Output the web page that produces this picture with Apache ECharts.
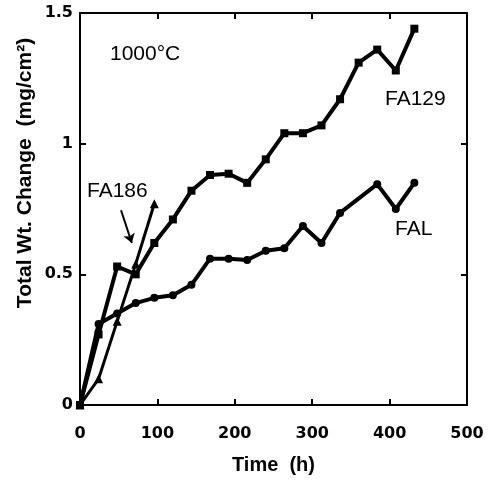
<!DOCTYPE html>
<html>
<head>
<meta charset="utf-8">
<script src="https://cdn.jsdelivr.net/npm/echarts@6/dist/echarts.min.js"></script>
<style>
  html, body { margin: 0; padding: 0; background: #fff; }
  #chart { width: 489px; height: 480px; }
</style>
</head>
<body>
<div id="chart"></div>
<script>
// 读图估计的数据（时间 h，增重 mg/cm²）
const fa129Time = [0, 24, 48, 72, 96, 120, 144, 168, 192, 216, 240, 264, 288, 312, 336, 360, 384, 408, 432];
const fa129Val = [0, 0.27, 0.53, 0.5, 0.62, 0.71, 0.82, 0.88, 0.885, 0.85, 0.94, 1.04, 1.04, 1.07, 1.17, 1.31, 1.36, 1.28, 1.44];

const falTime = [0, 24, 48, 72, 96, 120, 144, 168, 192, 216, 240, 264, 288, 312, 336, 384, 408, 432];
const falVal = [0, 0.31, 0.35, 0.39, 0.41, 0.42, 0.46, 0.56, 0.56, 0.555, 0.59, 0.6, 0.685, 0.62, 0.735, 0.845, 0.75, 0.85];

const fa186Time = [0, 24, 48, 72, 96];
const fa186Val = [0, 0.1, 0.32, 0.54, 0.77];

const xTicks = [0, 100, 200, 300, 400, 500];
const yTicks = [0, 0.5, 1, 1.5];

const pairs = (xs, ys) => xs.map((x, i) => [x, ys[i]]);

const chart = echarts.init(document.getElementById("chart"));
const FONT = "Liberation Sans";
const TICK_FONT = "DejaVu Sans";

// 四边都画轴线，刻度朝内
const frameAxis = (extra) => ({
  type: "value",
  axisLine: { onZero: false, lineStyle: { color: "#000", width: 2 } },
  axisTick: { inside: true, length: 6, lineStyle: { color: "#000", width: 2 } },
  splitLine: { show: false },
  ...extra,
});

const lineBase = {
  type: "line",
  xAxisIndex: 0,
  yAxisIndex: 0,
  lineStyle: { color: "#000", width: 4 },
  itemStyle: { color: "#000" },
  animation: false,
  z: 3,
};

chart.setOption({
  animation: false,
  grid: { left: 80, right: 22, top: 13, bottom: 75 },
  xAxis: [
    frameAxis({
      min: 0,
      max: 500,
      interval: 100,
      name: "Time  (h)",
      nameLocation: "middle",
      nameGap: 50,
      nameTextStyle: { fontFamily: FONT, fontWeight: "bold", fontSize: 20, color: "#000" },
      axisLabel: {
        margin: 21,
        fontFamily: TICK_FONT,
        fontWeight: "bold",
        fontSize: 16,
        color: "#000",
        formatter: (v) => (xTicks.includes(v) ? String(v) : ""),
      },
    }),
    frameAxis({ position: "top", min: 0, max: 500, interval: 100, axisLabel: { show: false } }),
  ],
  yAxis: [
    frameAxis({
      min: 0,
      max: 1.5,
      interval: 0.5,
      axisLabel: {
        margin: 7,
        fontFamily: TICK_FONT,
        fontWeight: "bold",
        fontSize: 16,
        color: "#000",
        formatter: (v) => (yTicks.includes(v) ? String(v) : ""),
      },
    }),
    frameAxis({ position: "right", min: 0, max: 1.5, interval: 0.5, axisLabel: { show: false } }),
  ],
  series: [
    { ...lineBase, name: "FA129", symbol: "rect", symbolSize: 8, data: pairs(fa129Time, fa129Val) },
    { ...lineBase, name: "FAL", symbol: "circle", symbolSize: 8, data: pairs(falTime, falVal) },
    {
      ...lineBase,
      name: "FA186",
      symbol: "triangle",
      symbolSize: 9,
      lineStyle: { color: "#000", width: 3 },
      data: pairs(fa186Time, fa186Val),
      markLine: {
        silent: true,
        symbol: ["none", "arrow"],
        symbolSize: 9,
        label: { show: false },
        lineStyle: { color: "#000", width: 2, type: "solid" },
        data: [[{ coord: [53, 0.745] }, { coord: [67, 0.62] }]],
      },
    },
  ],
  graphic: [
    {
      type: "text",
      x: 25,
      y: 173,
      rotation: Math.PI / 2,
      style: {
        text: "Total Wt. Change  (mg/cm²)",
        font: `bold 21px ${FONT}`,
        fill: "#000",
        align: "center",
        verticalAlign: "middle",
      },
    },
    { type: "text", left: 110, top: 44, style: { text: "1000°C", font: `21px ${FONT}`, fill: "#000" } },
    { type: "text", left: 385, top: 89, style: { text: "FA129", font: `21px ${FONT}`, fill: "#000" } },
    { type: "text", left: 395, top: 219, style: { text: "FAL", font: `21px ${FONT}`, fill: "#000" } },
    { type: "text", left: 87, top: 181, style: { text: "FA186", font: `21px ${FONT}`, fill: "#000" } },
  ],
});
</script>
</body>
</html>
